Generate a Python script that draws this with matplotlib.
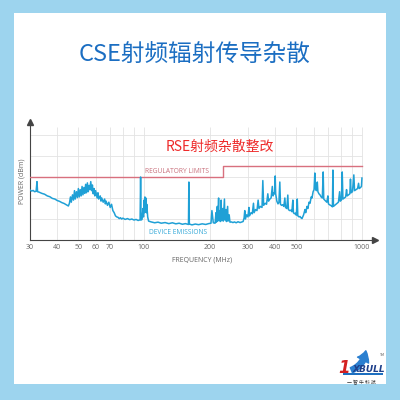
import matplotlib
matplotlib.use("Agg")
import matplotlib.pyplot as plt
from matplotlib.patches import Rectangle, FancyArrowPatch

plt.rcParams['font.family'] = ['Noto Sans CJK SC', 'DejaVu Sans']

# chart text
title = "CSE射频辐射传导杂散"
subtitle = "RSE射频杂散整改"
x_label = "FREQUENCY (MHz)"
y_label = "POWER (dBm)"
limit_label = "REGULATORY LIMITS"
emission_label = "DEVICE EMISSIONS"

# x axis ticks (MHz)
tick_freqs = [30, 40, 50, 60, 70, 100, 200, 300, 400, 500, 1000]
grid_freqs = [30, 40, 50, 60, 70, 80, 90, 100, 200, 300, 400, 500, 600, 700, 800, 900, 1000]
grid_levels = [1, 2, 3, 4, 5]

# regulatory limit (step at 230 MHz)
limit_freqs = [30, 230, 230, 1000]
limit_levels = [3.0, 3.0, 3.52, 3.52]

emis_freqs = [
    30, 30.5, 31, 31.5, 32, 32.3, 32.5, 33, 34, 35, 36, 37, 38, 39, 40, 41, 42, 43, 44, 45,
    45.5, 46, 46.4, 47, 47.5, 48, 48.4, 49, 49.5, 50, 50.5, 51, 51.5, 52, 52.5, 53, 53.5, 54,
    54.5, 55, 55.5, 56, 56.5, 57, 57.5, 58,
    58.5, 59, 59.5, 60, 61, 61.5, 62, 63, 63.5, 64, 65, 66, 66.5, 67, 68, 69, 70, 71, 72, 73, 74, 75,
    76, 77, 78, 79, 80, 82, 84, 86, 88, 90, 92, 94, 96, 96.5, 97,
    98, 99, 99.5, 100, 100.6, 101, 101.6, 102, 102.6, 103, 104, 105,
    108, 112, 116, 120, 125, 130, 135, 140, 145, 150, 155, 160, 160.7, 161.5, 166, 172, 178, 185, 192,
    198, 203, 205, 208, 212,
    214, 215, 217, 218, 220, 221, 223, 224, 226, 227, 230, 231, 234, 235, 238, 239, 242, 243, 246, 248,
    252, 256, 260, 265, 270, 276, 282, 285,
    288, 290, 292, 296, 300, 303, 305, 310, 314, 318, 320, 325, 330, 334, 337, 342, 348, 351, 354,
    360, 365, 370, 373, 378, 383, 388, 391, 395, 398, 400, 402,
    407, 412, 416, 420, 423, 428, 433, 438, 443, 446, 452, 457, 460, 466, 472, 477, 482, 485, 490,
    495, 500, 505, 508, 515, 520, 526, 531,
    540, 548, 552, 560, 565, 572, 578, 585, 590, 597, 603, 608, 612, 618, 624, 628,
    635, 642, 650, 658, 664, 668, 675, 682, 690, 698, 702, 710, 718, 726, 732, 736, 740,
    750, 760, 770, 780, 790, 795, 805, 812, 818, 830, 842, 850, 856, 868, 880, 886, 892, 905, 918,
    925, 940, 955, 965, 972, 985, 995, 1000,
]
emis_levels = [
    2.38, 2.33, 2.36, 2.30, 2.32, 2.78, 2.30, 2.28, 2.22, 2.18, 2.10, 2.06, 1.98, 1.95, 1.88, 1.84, 1.78, 1.74, 1.68, 1.62,
    1.75, 2.05, 1.80, 2.15, 1.90, 2.35, 1.95, 2.30, 2.02, 2.45, 2.05, 2.40, 2.10, 2.55, 2.15, 2.50, 2.22, 2.65,
    2.25, 2.72, 2.30, 2.60, 2.40, 2.78, 2.35, 2.62,
    2.20, 2.45, 2.10, 2.35, 2.00, 2.25, 1.95, 2.10, 1.85, 2.00, 1.80, 1.95, 1.72, 1.85, 1.65, 1.80, 1.55, 1.70, 1.40, 1.30, 1.15, 1.10,
    1.08, 1.02, 1.06, 1.00, 1.04, 0.98, 1.02, 0.97, 1.00, 0.95, 0.98, 0.93, 0.96, 3.00, 0.95,
    0.98, 1.50, 1.10, 1.90, 1.30, 2.05, 1.40, 2.00, 1.30, 1.70, 1.10, 0.90,
    0.86, 0.82, 0.85, 0.80, 0.83, 0.78, 0.82, 0.77, 0.80, 0.75, 0.78, 0.74, 2.76, 0.76, 0.72, 0.76, 0.73, 0.77, 0.74,
    0.78, 0.80, 1.40, 0.82, 0.80,
    1.30, 0.85, 1.60, 0.90, 2.00, 0.95, 1.40, 0.88, 1.90, 0.92, 1.50, 0.90, 1.95, 0.95, 1.45, 0.88, 1.60, 0.90, 1.20, 0.85,
    0.86, 0.83, 0.86, 0.82, 0.87, 0.83, 0.86, 0.88,
    1.05, 1.40, 1.00, 1.20, 1.10, 1.55, 1.15, 1.30, 1.25, 1.75, 1.30, 1.45, 1.40, 1.90, 1.50, 1.60, 1.55, 2.83, 1.65,
    1.75, 1.70, 2.20, 1.85, 1.95, 2.00, 2.55, 2.10, 2.25, 2.20, 3.05, 2.20,
    1.85, 1.72, 1.78, 2.76, 1.70, 1.65, 1.68, 1.60, 2.00, 1.55, 1.50, 2.14, 1.45, 1.40, 1.42, 1.35, 1.90, 1.30, 1.25,
    1.28, 1.18, 1.95, 1.15, 1.10, 1.12, 1.05, 1.02,
    1.20, 1.45, 1.30, 1.60, 1.50, 1.80, 1.75, 2.05, 2.00, 2.30, 2.40, 3.19, 2.45, 2.35, 2.76, 2.30,
    2.20, 2.15, 2.05, 2.00, 3.24, 1.95, 1.90, 1.85, 1.80, 2.10, 1.72, 1.68, 1.65, 1.62, 1.58, 3.33, 1.60,
    1.65, 1.70, 1.75, 1.80, 2.30, 1.85, 1.90, 3.24, 1.95, 2.00, 2.05, 2.40, 2.10, 2.15, 2.20, 2.90, 2.25, 2.30, 3.10,
    2.35, 2.40, 2.45, 2.70, 2.45, 2.50, 2.55, 2.95,
]

fig = plt.figure(figsize=(4, 4), dpi=100)
fig.patch.set_facecolor("#9dd4ee")
fig.patches.append(Rectangle((0.035, 0.04), 0.93, 0.9275, transform=fig.transFigure,
                             facecolor="white", edgecolor="none", zorder=-5))

fig.text(0.4875, 0.862, title, ha="center", va="center", fontsize=17, color="#1b6ec2")

ax = fig.add_axes([0.075, 0.40, 0.8625, 0.294])
ax.set_zorder(2)
ax.set_facecolor("none")
ax.set_xscale("log")
ax.set_xlim(30, 1148)
ax.set_ylim(0, 5.6)

ax.vlines(grid_freqs, 0, 5.4, color="#e3e3e3", lw=0.6, zorder=1)
ax.hlines(grid_levels, 30, 1000, color="#e3e3e3", lw=0.6, zorder=1)

ax.plot(limit_freqs, limit_levels, color="#d8707e", lw=1.0, zorder=3)
ax.plot(emis_freqs, emis_levels, color="#1fa0d6", lw=1.1, zorder=4)

ax.text(142, 3.1, limit_label, ha="center", va="bottom", fontsize=4.8,
        color="#c9707c", family=["Open Sans", "DejaVu Sans"])
ax.text(143, 0.38, emission_label, ha="center", va="center", fontsize=4.8,
        color="#35a9d8", family=["Open Sans", "DejaVu Sans"])
ax.text(126, 4.45, subtitle, ha="left", va="center", fontsize=10, color="#ee2a2a")

ax.set_xticks(tick_freqs)
ax.set_xticklabels([str(f) for f in tick_freqs], family=["Open Sans", "DejaVu Sans"])
ax.minorticks_off()
ax.set_yticks([])
ax.tick_params(axis="x", length=0, pad=3, labelsize=5, labelcolor="#666666")
ax.set_xlabel(x_label, fontsize=5, color="#666666", labelpad=4, family=["Open Sans", "DejaVu Sans"])
ax.set_ylabel(y_label, fontsize=5, color="#666666", labelpad=3, family=["Open Sans", "DejaVu Sans"])

for s in ["top", "right"]:
    ax.spines[s].set_visible(False)
for s in ["left", "bottom"]:
    ax.spines[s].set_color("#444444")
    ax.spines[s].set_linewidth(0.8)
ax.plot([0], [1], marker="^", color="#444444", markersize=4, transform=ax.transAxes, clip_on=False)
ax.plot([1], [0], marker=">", color="#444444", markersize=4, transform=ax.transAxes, clip_on=False)

# logo, bottom right
fig.patches.append(FancyArrowPatch((0.872, 0.072), (0.915, 0.130), transform=fig.transFigure,
                                   connectionstyle="arc3,rad=0.35",
                                   arrowstyle="simple,head_width=9,head_length=7,tail_width=4",
                                   color="#2a7fd0", zorder=3))
fig.text(0.861, 0.080, "1", fontsize=12, color="#d42020", style="italic", weight="bold",
         ha="center", va="center", family=["DejaVu Sans"], zorder=4)
fig.text(0.922, 0.077, "XBULL", fontsize=6.5, color="#1d3f8a", style="italic", weight="bold",
         ha="center", va="center", family=["DejaVu Sans"], zorder=4)
fig.patches.append(Rectangle((0.858, 0.0625), 0.1, 0.005, transform=fig.transFigure,
                             facecolor="#1d6fc0", edgecolor="none", zorder=4))
fig.text(0.903, 0.043, "一 智 牛 科 技", fontsize=3.5, color="#333333", ha="center", va="center")
fig.text(0.955, 0.112, "TM", fontsize=2.5, color="#555555", ha="center", va="center")

fig.savefig("out.png", dpi=100)
